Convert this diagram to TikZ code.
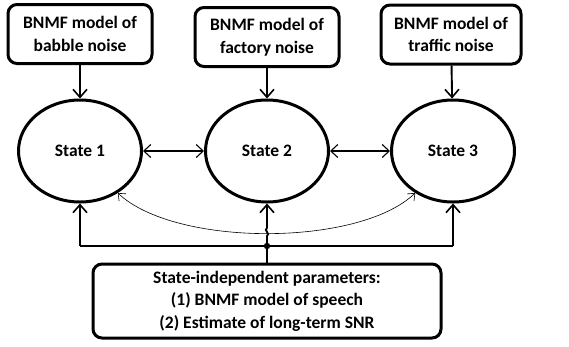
\documentclass[tikz,border=0pt]{standalone}
\usepackage{fontspec}
\setmainfont{Carlito}
\usetikzlibrary{shapes.geometric,arrows.meta}
\tikzset{
  box/.style={draw,line width=3pt,rounded corners=9pt,align=center,font=\fontsize{17.5}{22.5}\selectfont\bfseries,inner sep=0pt},
  state/.style={draw,ellipse,line width=3pt,minimum width=123pt,minimum height=102pt,inner sep=0pt,font=\fontsize{17.5}{22}\selectfont\bfseries},
  arr/.style={line width=1.9pt,-{Straight Barb[length=8pt,width=14pt,line width=1.6pt]}},
  darr/.style={line width=1.1pt,{Straight Barb[length=7pt,width=13pt,line width=1.1pt]}-{Straight Barb[length=7pt,width=13pt,line width=1.1pt]}},
  carr/.style={line width=0.6pt,{Straight Barb[length=6pt,width=10pt,line width=0.6pt]}-{Straight Barb[length=6pt,width=10pt,line width=0.6pt]}},
  wire/.style={line width=1.9pt}
}
\begin{document}
\begin{tikzpicture}[x=1pt,y=-1pt]
\useasboundingbox (0,0) rectangle (569,346);
\node[box,minimum width=144pt,minimum height=59pt] (b1) at (80,34) {BNMF model of\\babble noise};
\node[box,minimum width=144pt,minimum height=59pt] (b2) at (267,37) {BNMF model of\\factory noise};
\node[box,minimum width=140pt,minimum height=59pt] (b3) at (451,34.5) {BNMF model of\\traffic noise};
\node[state] (s1) at (80,151) {State 1};
\node[state] (s2) at (267,151) {State 2};
\node[state] (s3) at (453,151) {State 3};
\node[box,minimum width=348pt,minimum height=74pt] (p) at (267,301) {State-independent parameters:\\(1) BNMF model of speech\\(2) Estimate of long-term SNR};
\coordinate (j) at (267,246);
\coordinate (l1) at (80,246);
\coordinate (l3) at (453,246);
\coordinate (ja) at (267,236);
\coordinate (jb) at (267,228);
\draw[arr] (b1) -- (s1);
\draw[arr] (b2) -- (s2);
\draw[arr] (b3) -- (s3);
\draw[darr] (s1.east) -- (s2.west);
\draw[darr] (s2.east) -- (s3.west);
\draw[carr] (s1.-48) .. controls (175,247) and (359,247) .. (s3.-132);
\draw[wire] (l1) -- (l3);
\draw[wire] (p.north) -- (j);
\draw[arr] (l1) -- (s1.south);
\draw[arr] (l3) -- (s3.south);
\draw[wire] (j) -- (ja) .. controls (271,234) and (263,230) .. (jb);
\draw[arr] (jb) -- (s2.south);
\fill (j) circle (3.2pt);
\end{tikzpicture}
\end{document}
